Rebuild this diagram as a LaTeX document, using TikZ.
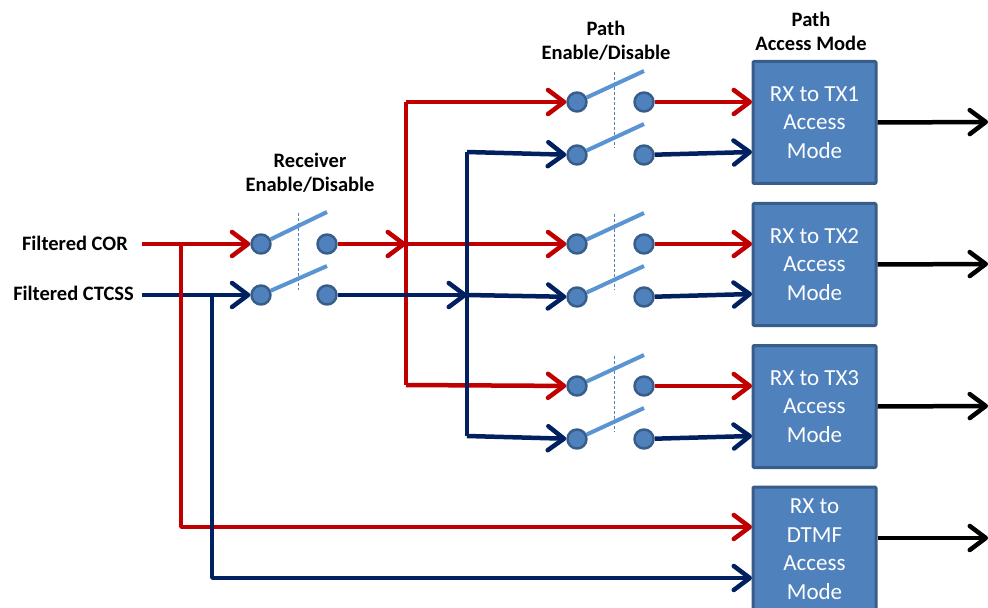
\documentclass[tikz,border=0pt]{standalone}
\usepackage{fontspec}
\setmainfont{Carlito}
\usetikzlibrary{arrows.meta}
\definecolor{redcol}{HTML}{C00000}
\definecolor{bluecol}{HTML}{002060}
\definecolor{boxcol}{HTML}{4F81BD}
\definecolor{edgecol}{HTML}{385D8A}
\definecolor{bladecol}{HTML}{5B94D2}
\tikzset{
  redline/.style={draw=redcol,line width=4.5bp},
  blueline/.style={draw=bluecol,line width=4.5bp},
  outline/.style={draw=black,line width=4.5bp},
  terminal/.style={circle,fill=boxcol,draw=edgecol,line width=2.5bp,minimum size=19bp,inner sep=0pt},
  blade/.style={draw=bladecol,line width=4bp},
  gang/.style={draw=boxcol,line width=.9bp,dash pattern=on 3bp off 2bp},
  modebox/.style={draw=edgecol,fill=boxcol,line width=3bp,rounded corners=1bp,minimum width=123bp,inner sep=0pt,
    text=white,align=center,font=\fontsize{23bp}{28.5bp}\selectfont},
  caption/.style={align=center,inner sep=0pt,font=\fontsize{20.5bp}{24bp}\selectfont\bfseries},
}
\begin{document}
\begin{tikzpicture}[>={Straight Barb[length=16bp,width=24bp,round]},line join=bevel,x=1bp,y=-1bp]
  \useasboundingbox (0,0) rectangle (988,608);
%%
  % Node: captions
  \node[caption,anchor=east] (corlabel) at (128,243) {Filtered COR};
  \node[caption,anchor=east] (ctcsslabel) at (134,293) {Filtered CTCSS};
  \node[caption] (rxlabel) at (310,173) {Receiver\\Enable/Disable};
  \node[caption] (pathlabel) at (606,41) {Path\\Enable/Disable};
  \node[caption] (modelabel) at (811,31) {Path\\Access Mode};
  % Node: free ends
  \coordinate (corstart) at (142,244);
  \coordinate (ctcssstart) at (142,295);
  \coordinate (corsplit) at (181,244);
  \coordinate (ctcsssplit) at (212,295);
  \coordinate (redjoin) at (406,244);
  \coordinate (bluejoin) at (467,295);
  \coordinate (redtop) at (406,102);
  \coordinate (redbottom) at (406,385);
  \coordinate (bluetop) at (467,152);
  \coordinate (bluebottom) at (467,436);
  \coordinate (boxoneblue) at (752,152);
  \coordinate (boxtwoblue) at (752,294);
  \coordinate (boxthreeblue) at (752,436);
  \coordinate (boxfourred) at (752,527);
  \coordinate (boxfourblue) at (752,578);
  \coordinate (boxonered) at (752,102);
  \coordinate (boxtwored) at (752,244);
  \coordinate (boxthreered) at (752,386);
  \coordinate (endone) at (988,122);
  \coordinate (endtwo) at (988,264);
  \coordinate (endthree) at (988,406);
  \coordinate (endfour) at (988,538);
  % Node: terminals
  \node[terminal] (rxcorin) at (261,244) {};
  \node[terminal] (rxcorout) at (327,244) {};
  \node[terminal] (rxctcssin) at (261,295) {};
  \node[terminal] (rxctcssout) at (327,295) {};
  \node[terminal] (oneredin) at (577,102) {};
  \node[terminal] (oneredout) at (644,102) {};
  \node[terminal] (onebluein) at (577,155) {};
  \node[terminal] (oneblueout) at (644,155) {};
  \node[terminal] (tworedin) at (577,244) {};
  \node[terminal] (tworedout) at (644,244) {};
  \node[terminal] (twobluein) at (577,297) {};
  \node[terminal] (twoblueout) at (644,297) {};
  \node[terminal] (threeredin) at (577,386) {};
  \node[terminal] (threeredout) at (644,386) {};
  \node[terminal] (threebluein) at (577,439) {};
  \node[terminal] (threeblueout) at (644,439) {};
  % Edge: switch blades and links
  \draw[gang] (298,213) -- (298,290);
  \draw[blade] (rxcorin) -- (327,212);
  \draw[blade] (rxctcssin) -- (327,266);
  \draw[gang] (614,72) -- (614,148);
  \draw[blade] (oneredin) -- (644,71);
  \draw[blade] (onebluein) -- (644,124);
  \draw[gang] (614,214) -- (614,290);
  \draw[blade] (tworedin) -- (644,213);
  \draw[blade] (twobluein) -- (644,266);
  \draw[gang] (614,356) -- (614,432);
  \draw[blade] (threeredin) -- (644,355);
  \draw[blade] (threebluein) -- (644,408);
  % Edge: ctcss -- receiver
  \draw[blueline,->] (ctcssstart) -- (rxctcssin);
  % Edge: cor -- receiver
  \draw[redline,->] (corstart) -- (rxcorin);
  \draw[redline,->] (corsplit) |- (boxfourred);
  % Edge: ctcss -- dtmf
  \draw[blueline,->] (ctcsssplit) |- (boxfourblue);
  % Edge: receiver -- red paths
  \draw[redline,->] (rxcorout) -- (redjoin);
  \draw[redline] (redtop) -- (redbottom);
  \draw[redline,->] (redtop) -- (oneredin);
  \draw[redline,->] (redjoin) -- (tworedin);
  \draw[redline,->] (redbottom) -- (threeredin);
  % Edge: receiver -- blue paths
  \draw[blueline,->] (rxctcssout) -- (bluejoin);
  \draw[blueline] (bluetop) -- (bluebottom);
  \draw[blueline,->] (bluetop) -- (onebluein);
  \draw[blueline,->] (bluejoin) -- (twobluein);
  \draw[blueline,->] (bluebottom) -- (threebluein);
  % Node: mode boxes
  \node[modebox,minimum height=122bp] (boxone) at (814.5,122.5) {RX to TX1\\Access\\Mode};
  \node[modebox,minimum height=122bp] (boxtwo) at (814.5,264.5) {RX to TX2\\Access\\Mode};
  \node[modebox,minimum height=122bp] (boxthree) at (814.5,406.5) {RX to TX3\\Access\\Mode};
  \node[modebox,minimum height=124bp] (boxfour) at (814.5,549) {RX to\\DTMF\\Access\\Mode};
  % Edge: paths -- boxes
  \draw[redline,->] (oneredout) -- (boxonered);
  \draw[blueline,->] (oneblueout) -- (boxoneblue);
  \draw[redline,->] (tworedout) -- (boxtwored);
  \draw[blueline,->] (twoblueout) -- (boxtwoblue);
  \draw[redline,->] (threeredout) -- (boxthreered);
  \draw[blueline,->] (threeblueout) -- (boxthreeblue);
  % Edge: boxes -- outputs
  \draw[outline,->] (boxone.east) -- (endone);
  \draw[outline,->] (boxtwo.east) -- (endtwo);
  \draw[outline,->] (boxthree.east) -- (endthree);
  \draw[outline,->] (boxfour.east |- endfour) -- (endfour);
\end{tikzpicture}
\end{document}
